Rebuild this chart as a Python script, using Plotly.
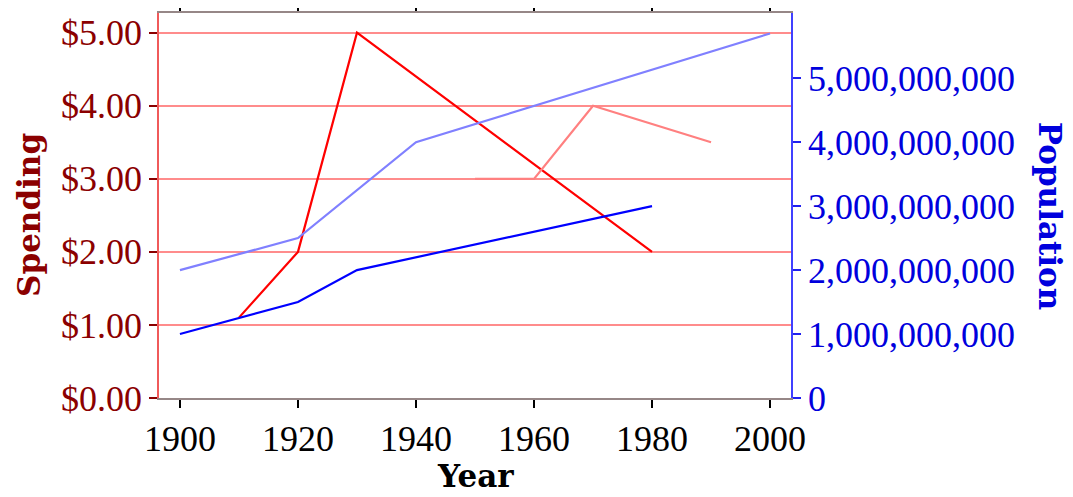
import plotly.graph_objects as go

years_spend_a = [1910, 1920, 1930, 1980]
spend_a = [1.1, 2.0, 5.0, 2.0]
years_spend_b = [1950, 1960, 1970, 1990]
spend_b = [3.0, 3.0, 4.0, 3.5]
years_pop_a = [1900, 1910, 1920, 1930, 1980]
pop_a = [1.0e9, 1.25e9, 1.5e9, 2.0e9, 3.0e9]
years_pop_b = [1900, 1920, 1940, 2000]
pop_b = [2.0e9, 2.5e9, 4.0e9, 5.7e9]

font = "Liberation Serif"
title_font = "DejaVu Serif"
dark_red = "#8b0000"
blue = "#0000dd"

fig = go.Figure()
fig.add_trace(go.Scatter(x=years_pop_a, y=pop_a, mode="lines", yaxis="y2",
                         line=dict(color="#0000ff", width=2.2)))
fig.add_trace(go.Scatter(x=years_pop_b, y=pop_b, mode="lines", yaxis="y2",
                         line=dict(color="#8080ff", width=2.2)))
fig.add_trace(go.Scatter(x=years_spend_a, y=spend_a, mode="lines",
                         line=dict(color="#ff0000", width=2.2)))
fig.add_trace(go.Scatter(x=years_spend_b, y=spend_b, mode="lines",
                         line=dict(color="#ff8080", width=2.2)))

# page body has an 8px margin, so the figure is a bit smaller than the window
fig.update_layout(
    width=1065, height=489,
    margin=dict(l=151, r=282, t=5, b=99, autoexpand=False),
    paper_bgcolor="white", plot_bgcolor="white",
    showlegend=False,
    font=dict(family=font, size=36, color="black"),
    xaxis=dict(range=[1896.45, 2003.55], tickvals=[1900, 1920, 1940, 1960, 1980, 2000],
               showgrid=False, zeroline=False, showline=True, linecolor="#968787",
               linewidth=1.5, mirror="ticks", ticks="outside", ticklen=8, tickwidth=1.5,
               tickcolor="black", tickfont=dict(size=36, color="black")),
    yaxis=dict(range=[0, 5.27], tickvals=[0, 1, 2, 3, 4, 5],
               tickformat="$.2f", showgrid=True, gridcolor="#ff8c8c", gridwidth=1.5,
               zeroline=False, showline=True, linecolor="#f05a5a", linewidth=1.5,
               ticks="outside", ticklen=8, tickwidth=1.5, tickcolor=dark_red,
               tickfont=dict(size=36, color=dark_red)),
    yaxis2=dict(range=[0, 6.02e9], tickvals=[0, 1e9, 2e9, 3e9, 4e9, 5e9],
                tickformat=",d", overlaying="y", side="right", showgrid=False,
                zeroline=False, showline=True, linecolor="#4040ff", linewidth=1.5,
                ticks="outside", ticklen=8, tickwidth=1.5, tickcolor="#2020ee",
                tickfont=dict(size=36, color=blue)),
    annotations=[
        dict(text="<b>Year</b>", x=0.5, y=-0.203, xref="paper", yref="paper",
             xanchor="center", yanchor="middle", showarrow=False,
             font=dict(family=title_font, size=31, color="black")),
        dict(text="<b>Spending</b>", x=-0.206, y=0.475, xref="paper", yref="paper",
             xanchor="center", yanchor="middle", showarrow=False, textangle=-90,
             font=dict(family=title_font, size=31, color=dark_red)),
        dict(text="<b>Population</b>", x=1.41, y=0.473, xref="paper", yref="paper",
             xanchor="center", yanchor="middle", showarrow=False, textangle=90,
             font=dict(family=title_font, size=31, color=blue)),
    ],
)

fig.write_html("out.html")
